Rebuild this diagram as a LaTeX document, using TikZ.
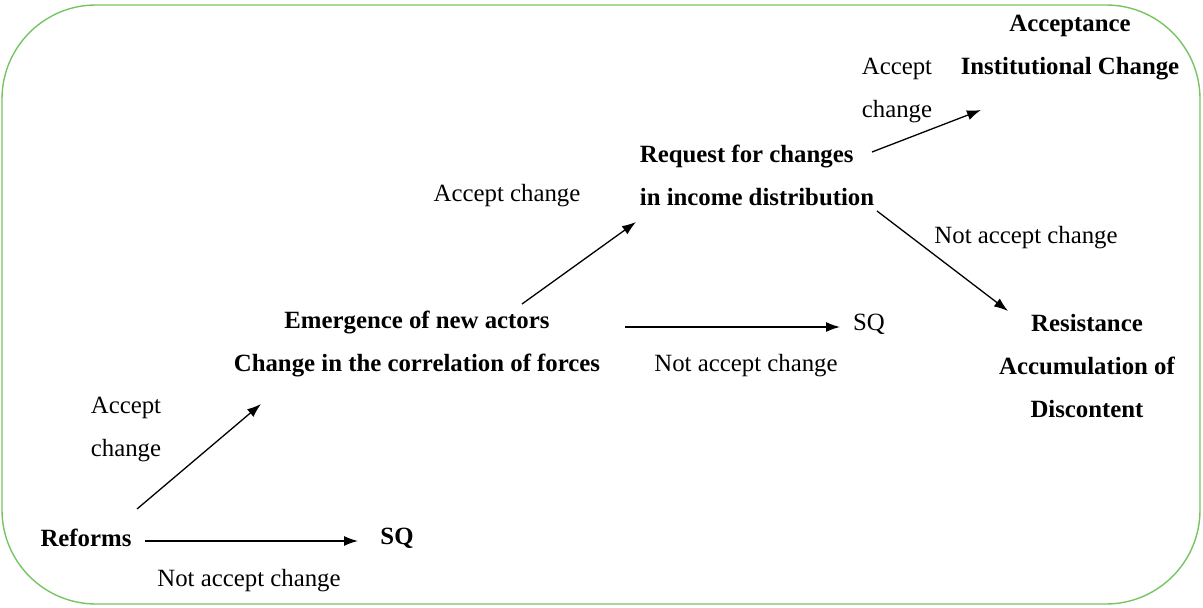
\documentclass[tikz,border=0pt]{standalone}
\usepackage{fontspec}
\setmainfont{Liberation Serif}
\usetikzlibrary{arrows.meta}
\definecolor{frameGreen}{RGB}{118,196,98}
\begin{document}
\begin{tikzpicture}[
			x=0.5pt, y=-0.5pt,
			every node/.style={font=\fontsize{12.4pt}{21.5pt}\selectfont, inner sep=0pt},
			state/.style={font=\fontsize{12.4pt}{21.5pt}\selectfont\bfseries, align=center},
			choice/.style={align=center},
			arr/.style={-{Latex[length=7pt,width=5pt]}, line width=0.65pt},
			]
			\useasboundingbox (0,0) rectangle (1203,608);
			\draw[frameGreen, line width=0.7pt, rounded corners=47pt] (2,5) rectangle (1200,604);
			% states
			\node[state] (reforms) at (86,538) {Reforms};
			\node[state] (sqa) at (397,538) {SQ};
			\node[state] (emerg) at (417,344) {Emergence of new actors\\Change in the correlation of forces};
			\node (sqb) at (869,324) {SQ};
			\node[state, align=left] (request) at (757,175) {Request for changes\\in income distribution};
			\node[state] (accept) at (1070,48) {Acceptance\\Institutional Change};
			\node[state] (resist) at (1087,366) {Resistance\\Accumulation of\\Discontent};
			% choices
			\node[choice] (acc1) at (126,429) {Accept\\change};
			\node (nacc1) at (249,581) {Not accept change};
			\node (nacc2) at (746,366) {Not accept change};
			\node (acc2) at (507,196) {Accept change};
			\node[choice] (acc3) at (897,90) {Accept\\change};
			\node (nacc3) at (1026,238) {Not accept change};
			% arrows
			\draw[arr] ([shift={(51,-29)}]reforms.center) -- ([shift={(-156,60)}]emerg.center);
			\draw[arr] ([shift={(59,3)}]reforms.center) -- ([shift={(-39,3)}]sqa.center);
			\draw[arr] ([shift={(105,-40)}]emerg.center) -- ([shift={(-121,47)}]request.center);
			\draw[arr] ([shift={(208,-17)}]emerg.center) -- ([shift={(-29,3)}]sqb.center);
			\draw[arr] ([shift={(115,-23)}]request.center) -- ([shift={(-89,62)}]accept.center);
			\draw[arr] ([shift={(120,36)}]request.center) -- ([shift={(-79,-55)}]resist.center);
		\end{tikzpicture}
\end{document}
